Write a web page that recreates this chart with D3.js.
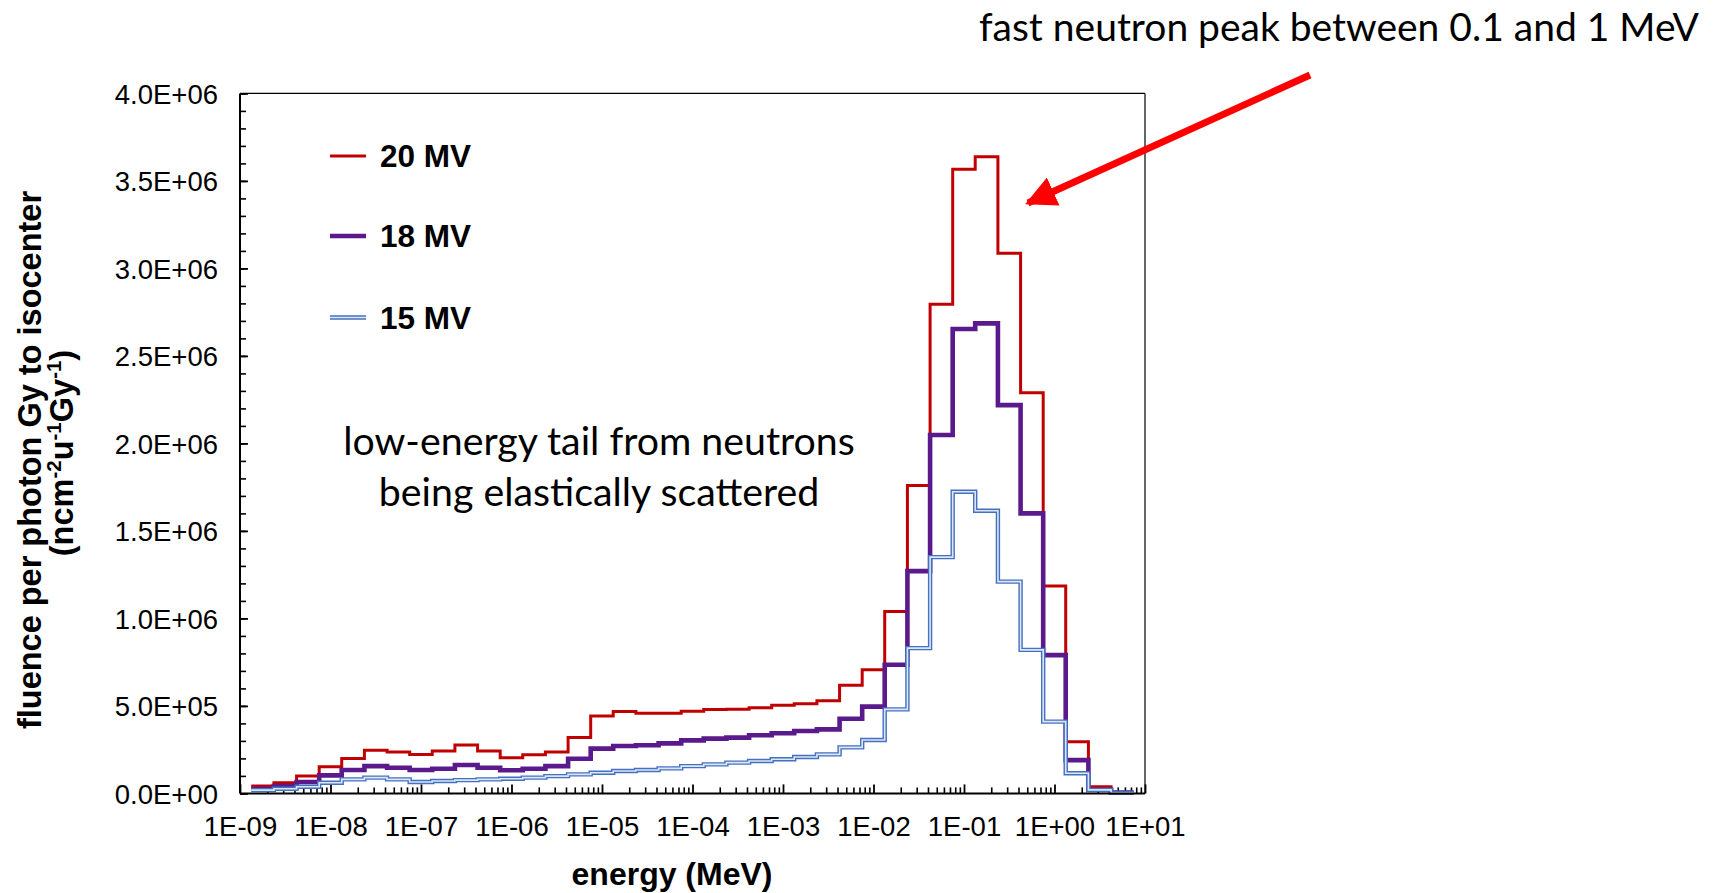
<!DOCTYPE html>
<html>
<head>
<meta charset="utf-8">
<script src="https://cdn.jsdelivr.net/npm/d3@7"></script>
<style>
  html, body { margin: 0; padding: 0; background: #ffffff; }
  svg { display: block; }
</style>
</head>
<body>
<script>
// ---- data (energy bin edges in MeV, fluence per bin) ----
const binEdges = [
  1.33e-9, 2.37e-9, 4.22e-9, 7.50e-9,
  1.33e-8, 2.37e-8, 4.22e-8, 7.50e-8,
  1.33e-7, 2.37e-7, 4.22e-7, 7.50e-7,
  1.33e-6, 2.37e-6, 4.22e-6, 7.50e-6,
  1.33e-5, 2.37e-5, 4.22e-5, 7.50e-5,
  1.33e-4, 2.37e-4, 4.22e-4, 7.50e-4,
  1.33e-3, 2.37e-3, 4.22e-3, 7.50e-3,
  1.33e-2, 2.37e-2, 4.22e-2, 7.50e-2,
  1.33e-1, 2.37e-1, 4.22e-1, 7.50e-1,
  1.33e0, 2.37e0, 4.22e0, 7.50e0
];
const seriesNames = ["20 MV", "18 MV", "15 MV"];
const mv20 = [42000, 61000, 100000, 153000, 200000, 246000, 237000, 223000, 242000, 277000,
  242000, 204000, 221000, 237000, 319000, 443000, 468000, 458000, 458000, 469000,
  479000, 481000, 490000, 504000, 513000, 529000, 618000, 706000, 1040000, 1760000,
  2795000, 3566000, 3638000, 3086000, 2290000, 1185000, 295000, 38000, 3000];
const mv18 = [27000, 42000, 65000, 103000, 134000, 156000, 147000, 134000, 141000, 162000,
  147000, 132000, 141000, 156000, 198000, 256000, 271000, 275000, 286000, 303000,
  313000, 319000, 332000, 344000, 357000, 366000, 427000, 496000, 735000, 1270000,
  2048000, 2654000, 2686000, 2219000, 1600000, 790000, 190000, 20000, 5000];
const mv15 = [19000, 27000, 38000, 61000, 80000, 90000, 80000, 65000, 71000, 76000,
  80000, 84000, 90000, 99000, 109000, 118000, 128000, 134000, 143000, 156000,
  166000, 176000, 185000, 195000, 208000, 223000, 263000, 305000, 480000, 830000,
  1350000, 1724000, 1615000, 1210000, 820000, 410000, 115000, 20000, 3000];
const xTickValues = [1e-9, 1e-8, 1e-7, 1e-6, 1e-5, 1e-4, 1e-3, 1e-2, 1e-1, 1e0, 1e1];
const xTickLabels = ["1E-09", "1E-08", "1E-07", "1E-06", "1E-05", "1E-04", "1E-03", "1E-02", "1E-01", "1E+00", "1E+01"];
const yTickValues = [0, 500000, 1000000, 1500000, 2000000, 2500000, 3000000, 3500000, 4000000];
const yTickLabels = ["0.0E+00", "5.0E+05", "1.0E+06", "1.5E+06", "2.0E+06", "2.5E+06", "3.0E+06", "3.5E+06", "4.0E+06"];

// ---- layout ----
const W = 1723, H = 893;
const L = 240, R = 1145, T = 93.4, B = 793.4;
const svg = d3.select("body").append("svg").attr("width", W).attr("height", H);

const x = d3.scaleLog().domain([1e-9, 1e1]).range([L, R]);
const y = d3.scaleLinear().domain([0, 4e6]).range([B, T]);

const tickFont = "'Liberation Sans', Arial, sans-serif";

// minor x ticks
const minorX = [];
for (let e = -9; e < 1; e++) for (let m = 2; m <= 9; m++) minorX.push(m * Math.pow(10, e));
svg.append("g").attr("transform", `translate(0,${B})`)
  .call(d3.axisBottom(x).tickValues(minorX).tickSize(-6).tickFormat(""))
  .call(g => g.select(".domain").remove())
  .call(g => g.selectAll("line").attr("stroke", "#000").attr("stroke-width", 1.6));

// minor y ticks
const minorY = d3.range(0, 4000001, 100000);
svg.append("g").attr("transform", `translate(${L},0)`)
  .call(d3.axisLeft(y).tickValues(minorY).tickSize(-6).tickFormat(""))
  .call(g => g.select(".domain").remove())
  .call(g => g.selectAll("line").attr("stroke", "#000").attr("stroke-width", 1.6));

// major x axis
svg.append("g").attr("transform", `translate(0,${B})`)
  .call(d3.axisBottom(x).tickValues(xTickValues).tickSize(-9).tickPadding(0)
    .tickFormat((d, i) => xTickLabels[i]))
  .call(g => g.select(".domain").remove())
  .call(g => g.selectAll("line").attr("stroke", "#000").attr("stroke-width", 1.8))
  .call(g => g.selectAll("text").attr("fill", "#000").attr("font-family", tickFont)
    .attr("font-size", 27.5).attr("y", 43).attr("dy", 0));

// major y axis
svg.append("g").attr("transform", `translate(${L},0)`)
  .call(d3.axisLeft(y).tickValues(yTickValues).tickSize(-8).tickPadding(0)
    .tickFormat((d, i) => yTickLabels[i]))
  .call(g => g.select(".domain").remove())
  .call(g => g.selectAll("line").attr("stroke", "#000").attr("stroke-width", 1.8))
  .call(g => g.selectAll("text").attr("fill", "#000").attr("font-family", tickFont)
    .attr("font-size", 27.5).attr("x", -22).attr("dy", "0.35em"));

// frame
svg.append("line").attr("x1", L).attr("x2", R).attr("y1", T).attr("y2", T).attr("stroke", "#000").attr("stroke-width", 1.2);
svg.append("line").attr("x1", R).attr("x2", R).attr("y1", T).attr("y2", B).attr("stroke", "#000").attr("stroke-width", 1.2);

// series
const stepLine = d3.line().x(d => x(d[0])).y(d => y(d[1])).curve(d3.curveStepAfter);
function pts(vals) {
  const p = vals.map((v, i) => [binEdges[i], v]);
  p.push([binEdges[vals.length], vals[vals.length - 1]]);
  return p;
}
const gLines = svg.append("g");
gLines.append("path").attr("d", stepLine(pts(mv20))).attr("fill", "none")
  .attr("stroke", "#C00000").attr("stroke-width", 3);
gLines.append("path").attr("d", stepLine(pts(mv18))).attr("fill", "none")
  .attr("stroke", "#5B1A8C").attr("stroke-width", 4.6);
gLines.append("path").attr("d", stepLine(pts(mv15))).attr("fill", "none")
  .attr("stroke", "#4470C0").attr("stroke-width", 4.4);
gLines.append("path").attr("d", stepLine(pts(mv15))).attr("fill", "none")
  .attr("stroke", "#DDE6F5").attr("stroke-width", 1.6);

// bottom & left axis lines on top
svg.append("line").attr("x1", L).attr("x2", R).attr("y1", B).attr("y2", B).attr("stroke", "#000").attr("stroke-width", 2);
svg.append("line").attr("x1", L).attr("x2", L).attr("y1", T).attr("y2", B).attr("stroke", "#000").attr("stroke-width", 2);

// legend
const legY = [156, 236, 317.5];
const leg = svg.append("g");
leg.append("line").attr("x1", 330).attr("x2", 366).attr("y1", legY[0]).attr("y2", legY[0]).attr("stroke", "#C00000").attr("stroke-width", 3);
leg.append("line").attr("x1", 330).attr("x2", 366).attr("y1", legY[1]).attr("y2", legY[1]).attr("stroke", "#5B1A8C").attr("stroke-width", 4.6);
leg.append("line").attr("x1", 330).attr("x2", 366).attr("y1", legY[2]).attr("y2", legY[2]).attr("stroke", "#4470C0").attr("stroke-width", 4.4);
leg.append("line").attr("x1", 330).attr("x2", 366).attr("y1", legY[2]).attr("y2", legY[2]).attr("stroke", "#DDE6F5").attr("stroke-width", 1.6);
seriesNames.forEach((n, i) => {
  leg.append("text").attr("x", 380).attr("y", legY[i] + 11).text(n)
    .attr("font-family", tickFont).attr("font-weight", "bold").attr("font-size", 31.5).attr("fill", "#000");
});

// axis titles
svg.append("text").attr("x", 672).attr("y", 885).attr("text-anchor", "middle")
  .attr("font-family", tickFont).attr("font-weight", "bold").attr("font-size", 32).attr("fill", "#000")
  .text("energy (MeV)");

const yt = svg.append("g").attr("font-family", tickFont).attr("font-weight", "bold").attr("fill", "#000");
yt.append("text").attr("transform", "translate(41,460) rotate(-90)").attr("text-anchor", "middle")
  .attr("font-size", 32.5).text("fluence per photon Gy to isocenter");
const t2 = yt.append("text").attr("transform", "translate(73,453) rotate(-90)").attr("text-anchor", "middle")
  .attr("font-size", 32.5);
t2.append("tspan").text("(ncm");
t2.append("tspan").attr("font-size", 20.5).attr("dy", -12).text("-2");
t2.append("tspan").attr("dy", 12).text("u");
t2.append("tspan").attr("font-size", 20.5).attr("dy", -12).text("-1");
t2.append("tspan").attr("dy", 12).text("Gy");
t2.append("tspan").attr("font-size", 20.5).attr("dy", -12).text("-1");
t2.append("tspan").attr("dy", 12).text(")");

// annotations
const annFont = "Lato, 'Open Sans', sans-serif";
svg.append("text").attr("x", 599).attr("y", 455).attr("text-anchor", "middle")
  .attr("font-family", annFont).attr("font-size", 39.3).attr("fill", "#000")
  .text("low-energy tail from neutrons");
svg.append("text").attr("x", 599).attr("y", 506).attr("text-anchor", "middle")
  .attr("font-family", annFont).attr("font-size", 39.3).attr("fill", "#000")
  .text("being elastically scattered");
svg.append("text").attr("x", 1339).attr("y", 40.5).attr("text-anchor", "middle")
  .attr("font-family", annFont).attr("font-size", 39).attr("fill", "#000")
  .text("fast neutron peak between 0.1 and 1 MeV");

// arrow
const defs = svg.append("defs");
defs.append("marker").attr("id", "ah").attr("viewBox", "0 0 10 10").attr("refX", 9).attr("refY", 5)
  .attr("markerWidth", 4.4).attr("markerHeight", 4.4).attr("orient", "auto")
  .append("path").attr("d", "M0,0 L10,5 L0,10 z").attr("fill", "#FF0000");
svg.append("line").attr("x1", 1310).attr("y1", 75).attr("x2", 1028).attr("y2", 203)
  .attr("stroke", "#FF0000").attr("stroke-width", 7).attr("marker-end", "url(#ah)");
</script>
</body>
</html>
